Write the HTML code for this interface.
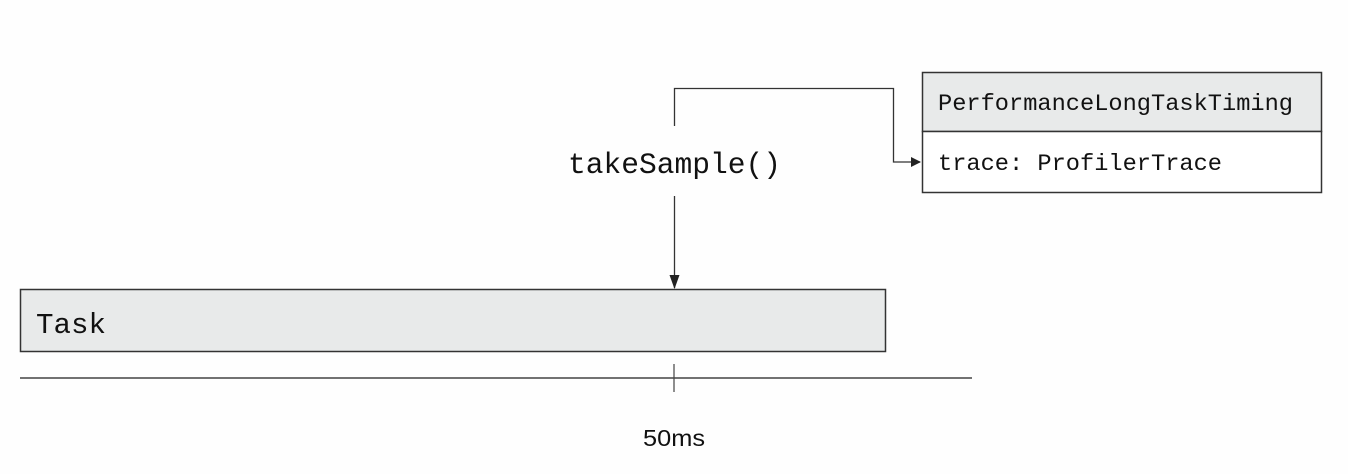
<!DOCTYPE html>
<html><head><meta charset="utf-8"><style>
body{margin:0;background:#fefefe;}
svg{display:block}
</style></head><body>
<svg width="1348" height="474" viewBox="0 0 1348 474" xmlns="http://www.w3.org/2000/svg">
<defs><marker id="a" markerWidth="10" markerHeight="10" refX="9" refY="5" orient="auto" markerUnits="userSpaceOnUse"><path d="M0,0 L10,5 L0,10 z" fill="#222"/></marker>
<marker id="b" markerWidth="14" markerHeight="14" refX="13" refY="7" orient="auto" markerUnits="userSpaceOnUse"><path d="M0,2 L14,7 L0,12 z" fill="#222"/></marker></defs>
<rect x="20.5" y="289.5" width="865" height="62" fill="#e8eaea" stroke="#333" stroke-width="1.5"/>
<text x="36" y="333" font-family="Liberation Mono, monospace" font-size="29" fill="#111" textLength="70" lengthAdjust="spacingAndGlyphs">Task</text>
<line x1="20" y1="378" x2="972" y2="378" stroke="#444" stroke-width="1.5"/>
<line x1="674" y1="364" x2="674" y2="392" stroke="#444" stroke-width="1.2"/>
<text x="643" y="446" font-family="Liberation Sans, sans-serif" font-size="23" fill="#111" textLength="62" lengthAdjust="spacingAndGlyphs">50ms</text>
<text x="568" y="173" font-family="Liberation Mono, monospace" font-size="30" fill="#111" textLength="213" lengthAdjust="spacingAndGlyphs">takeSample()</text>
<polyline points="674.5,126 674.5,88.5 893.5,88.5 893.5,162 920,162" fill="none" stroke="#333" stroke-width="1.3" marker-end="url(#a)"/>
<line x1="674.5" y1="196" x2="674.5" y2="288" stroke="#333" stroke-width="1.3" marker-end="url(#b)"/>
<rect x="922.5" y="72.5" width="399" height="59" fill="#e8eaea" stroke="#333" stroke-width="1.5"/>
<rect x="922.5" y="131.5" width="399" height="61" fill="#fff" stroke="#333" stroke-width="1.5"/>
<text x="938" y="110" font-family="Liberation Mono, monospace" font-size="23" fill="#111" textLength="355" lengthAdjust="spacingAndGlyphs">PerformanceLongTaskTiming</text>
<text x="938" y="170" font-family="Liberation Mono, monospace" font-size="23" fill="#111" textLength="284" lengthAdjust="spacingAndGlyphs">trace: ProfilerTrace</text>
</svg>
</body></html>
